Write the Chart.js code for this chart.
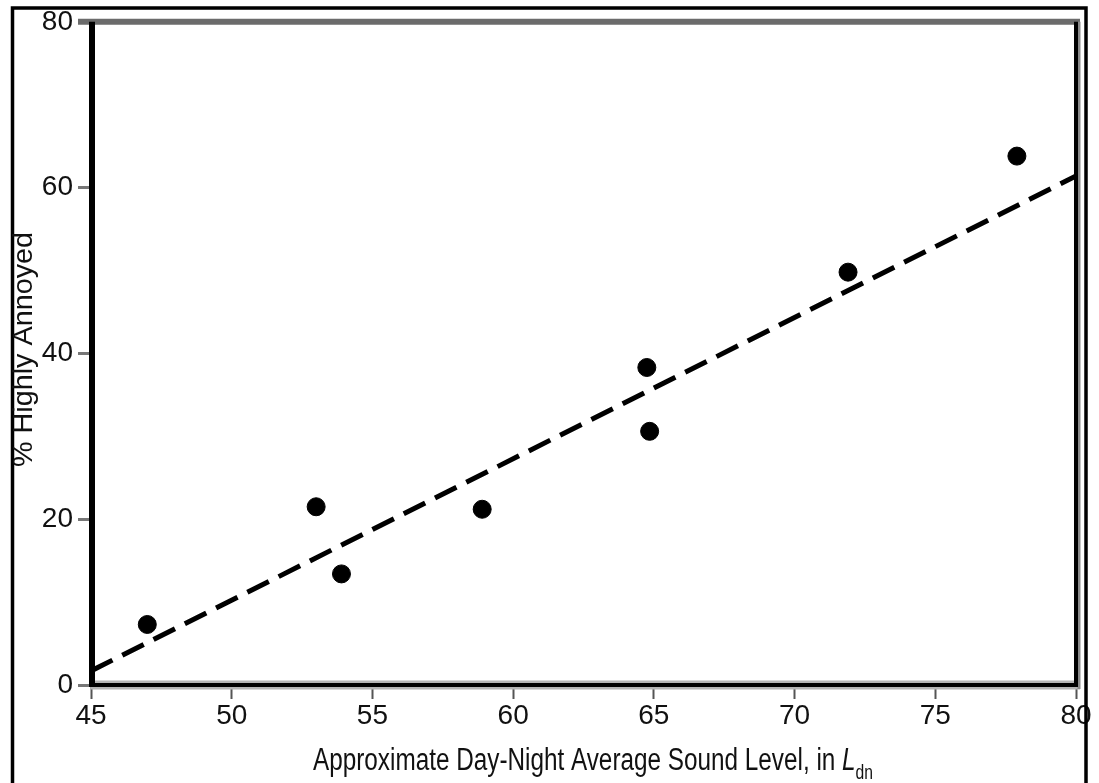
<!DOCTYPE html>
<html>
<head>
<meta charset="utf-8">
<script src="https://cdn.jsdelivr.net/npm/chart.js@4.4.1/dist/chart.umd.min.js"></script>
<style>
 html, body { margin: 0; padding: 0; background: #fff; }
 #wrap { width: 1099px; height: 783px; }
</style>
</head>
<body>
<div id="wrap"><canvas id="annoyChart" width="1099" height="783"></canvas></div>
<script>
// survey points: Ldn vs % highly annoyed
var soundLevels = [47.0, 53.0, 53.9, 58.9, 64.75, 64.85, 71.9, 77.9];
var pctAnnoyed = [7.3, 21.5, 13.4, 21.2, 38.3, 30.6, 49.8, 63.8];

// fitted line end points
var fitX = [45, 80];
var fitY = [1.7, 61.4];

var xTicks = [45, 50, 55, 60, 65, 70, 75, 80];
var yTicks = [0, 20, 40, 60, 80];

var fontFamily = '"Liberation Sans", Arial, sans-serif';
var textColor = "#111";

// draw text squeezed to a given width (the source uses a tall narrow face)
function squeezedText(ctx, parts, x0, base, targetW) {
 var total = 0;
 parts.forEach(function (p) {
  ctx.font = p.font;
  p.w = ctx.measureText(p.text).width;
  total += p.w;
 });
 var sx = targetW / total;
 ctx.save();
 ctx.translate(x0, base);
 ctx.scale(sx, 1);
 var x = 0;
 parts.forEach(function (p) {
  ctx.font = p.font;
  ctx.fillText(p.text, x, p.dy || 0);
  x += p.w;
 });
 ctx.restore();
}

var framePlugin = {
 id: "frame",
 afterDraw: function (chart) {
  var ctx = chart.ctx;
  var a = chart.chartArea;
  ctx.save();
  ctx.lineCap = "butt";

  // outer border round the whole figure
  ctx.strokeStyle = "#000";
  ctx.lineWidth = 3.5;
  ctx.beginPath();
  ctx.moveTo(12.5, 790);
  ctx.lineTo(12.5, 8);
  ctx.lineTo(1086, 8);
  ctx.lineTo(1086, 790);
  ctx.stroke();

  // top edge of plot (grey)
  ctx.strokeStyle = "#6b6b6b";
  ctx.lineWidth = 6;
  ctx.beginPath();
  ctx.moveTo(78, a.top);
  ctx.lineTo(a.right + 4, a.top);
  ctx.stroke();

  // bottom edge: grey band with black core
  ctx.strokeStyle = "#b4b4b4";
  ctx.lineWidth = 9;
  ctx.beginPath();
  ctx.moveTo(a.left, a.bottom);
  ctx.lineTo(a.right + 4, a.bottom);
  ctx.stroke();
  ctx.strokeStyle = "#000";
  ctx.lineWidth = 4;
  ctx.beginPath();
  ctx.moveTo(a.left, a.bottom);
  ctx.lineTo(a.right + 2, a.bottom);
  ctx.stroke();

  // right edge
  ctx.strokeStyle = "#8a8a8a";
  ctx.lineWidth = 3;
  ctx.beginPath();
  ctx.moveTo(a.right + 3, a.top);
  ctx.lineTo(a.right + 3, a.bottom + 4);
  ctx.stroke();
  ctx.strokeStyle = "#000";
  ctx.lineWidth = 4;
  ctx.beginPath();
  ctx.moveTo(a.right, a.top);
  ctx.lineTo(a.right, a.bottom + 2);
  ctx.stroke();

  // left axis
  ctx.lineWidth = 6;
  ctx.beginPath();
  ctx.moveTo(a.left + 1, a.top);
  ctx.lineTo(a.left + 1, a.bottom + 2);
  ctx.stroke();

  // axis titles
  ctx.fillStyle = textColor;
  ctx.textBaseline = "alphabetic";
  ctx.textAlign = "left";
  squeezedText(ctx, [
   { text: "Approximate Day-Night Average Sound Level, in ", font: "31px " + fontFamily },
   { text: "L", font: "italic 31px " + fontFamily },
   { text: "dn", font: "20px " + fontFamily, dy: 9 },
  ], 313, 770, 560);

  ctx.translate(32, 467);
  ctx.rotate(-Math.PI / 2);
  squeezedText(ctx, [
   { text: "% Highly Annoyed", font: "27px " + fontFamily },
  ], 0, 0, 235);
  ctx.restore();
 },
};

var chartDiv = document.getElementById("annoyChart");

new Chart(chartDiv, {
 type: "scatter",
 data: {
  datasets: [
   {
    label: "Surveys",
    data: soundLevels.map(function (x, i) {
     return { x: x, y: pctAnnoyed[i] };
    }),
    backgroundColor: "#000",
    borderColor: "#000",
    pointRadius: 9,
    pointHoverRadius: 9,
    order: 1,
   },
   {
    type: "line",
    label: "Fit",
    data: fitX.map(function (x, i) {
     return { x: x, y: fitY[i] };
    }),
    borderColor: "#000",
    borderWidth: 5,
    borderDash: [24, 11],
    pointRadius: 0,
    fill: false,
    order: 2,
   },
  ],
 },
 options: {
  responsive: false,
  animation: false,
  events: [],
  layout: {
   padding: { top: 18, right: 23, left: 0, bottom: 0 },
  },
  plugins: {
   legend: { display: false },
   tooltip: { enabled: false },
  },
  scales: {
   x: {
    type: "linear",
    min: 45,
    max: 80,
    afterFit: function (scale) {
     scale.height = 98;
    },
    afterBuildTicks: function (scale) {
     scale.ticks = xTicks.map(function (v) {
      return { value: v };
     });
    },
    border: { display: false },
    grid: {
     drawOnChartArea: false,
     drawTicks: true,
     tickLength: 14,
     tickWidth: 2,
     tickColor: "#555",
    },
    ticks: {
     padding: 0,
     color: textColor,
     font: { family: fontFamily, size: 28 },
     maxRotation: 0,
    },
   },
   y: {
    type: "linear",
    min: 0,
    max: 80,
    afterFit: function (scale) {
     scale.width = 91;
    },
    afterBuildTicks: function (scale) {
     scale.ticks = yTicks.map(function (v) {
      return { value: v };
     });
    },
    border: { display: false },
    grid: {
     drawOnChartArea: false,
     drawTicks: true,
     tickLength: 13,
     tickWidth: 3,
     tickColor: "#777",
    },
    ticks: {
     padding: 5,
     color: textColor,
     font: { family: fontFamily, size: 28 },
    },
   },
  },
 },
 plugins: [framePlugin],
});
</script>
</body>
</html>
